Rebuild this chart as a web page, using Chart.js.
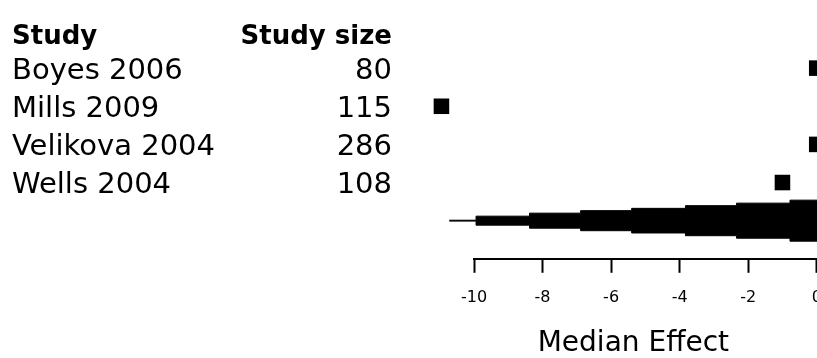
<!DOCTYPE html>
<html>
<head>
<meta charset="utf-8">
<script src="https://cdn.jsdelivr.net/npm/chart.js@4.4.1/dist/chart.umd.min.js"></script>
<style>
html,body{margin:0;padding:0;background:#fff;overflow:hidden;}
#wrap{width:1111px;height:358px;position:relative;}
</style>
</head>
<body>
<div id="wrap"><canvas id="c"></canvas></div>
<script>
// ---- data ----
const headerStudy = 'Study';
const headerSize = 'Study size';
const studies = ['Boyes 2006', 'Mills 2009', 'Velikova 2004', 'Wells 2004'];
const studySizes = [80, 115, 286, 108];
const medianEffects = [0, -10.95, 0, -1];
const studyRows = [1, 2, 3, 4];
const summaryRow = 5;
// stepped summary wedge: left edges of steps and half-heights (in row units)
const wedgeEdges = [-10.72, -9.94, -8.38, -6.89, -5.40, -3.83, -2.34, -0.78, 1.5];
const wedgeHalf = [0.012, 0.118, 0.197, 0.263, 0.323, 0.394, 0.46, 0.538, 0.538];
const xMin = -10, xMax = 8, xStep = 2;
const axisTitle = 'Median Effect';

const upper = wedgeEdges.map((x, i) => ({x: x, y: summaryRow - wedgeHalf[i]}));
const lower = wedgeEdges.map((x, i) => ({x: x, y: summaryRow + wedgeHalf[i]}));
const markers = medianEffects.map((v, i) => ({x: v, y: studyRows[i]}));

// let marks that fall left of the axis minimum still be drawn
const widenArea = {
  id: 'widenArea',
  beforeDatasetsDraw(chart) {
    this._saved = chart.chartArea;
    chart.chartArea = {left: 0, top: 0, right: chart.width, bottom: chart.height,
                       width: chart.width, height: chart.height};
  },
  afterDatasetsDraw(chart) {
    if (this._saved) chart.chartArea = this._saved;
  }
};

const tablePlugin = {
  id: 'table',
  afterDraw(chart) {
    const ctx = chart.ctx;
    const ys = chart.scales.y;
    const xs = chart.scales.x;
    ctx.save();
    ctx.fillStyle = '#000';
    ctx.textBaseline = 'alphabetic';
    ctx.font = 'bold 26px "DejaVu Sans"';
    const hy = ys.getPixelForValue(0.36);
    ctx.textAlign = 'left';
    ctx.fillText(headerStudy, 12, hy);
    ctx.textAlign = 'right';
    ctx.fillText(headerSize, 392, hy);
    ctx.font = '29px "DejaVu Sans"';
    studies.forEach((s, i) => {
      const y = ys.getPixelForValue(studyRows[i]) + 10.5;
      ctx.textAlign = 'left';
      ctx.fillText(s, 12, y);
      ctx.textAlign = 'right';
      ctx.fillText(String(studySizes[i]), 392, y);
    });
    ctx.font = '28px "DejaVu Sans"';
    ctx.textAlign = 'center';
    ctx.fillText(axisTitle, xs.getPixelForValue(-5.35), 350.5);
    ctx.restore();
  }
};

new Chart(document.getElementById('c'), {
  type: 'scatter',
  data: {
    datasets: [
      {data: upper, showLine: true, stepped: 'before', borderColor: '#000', borderWidth: 1,
       backgroundColor: '#000', fill: false, pointRadius: 0, clip: false},
      {data: lower, showLine: true, stepped: 'before', borderColor: '#000', borderWidth: 1,
       backgroundColor: '#000', fill: '-1', pointRadius: 0, clip: false},
      {data: markers, pointStyle: 'rect', pointRadius: 11, backgroundColor: '#000',
       borderWidth: 0, clip: false},
      {data: markers, pointStyle: 'circle', pointRadius: 1.3, backgroundColor: '#ffffff',
       borderWidth: 0, clip: false}
    ]
  },
  options: {
    responsive: true,
    maintainAspectRatio: false,
    devicePixelRatio: 1,
    animation: false,
    events: [],
    layout: {padding: {left: 474, right: 1.4, top: 30, bottom: 36}},
    plugins: {legend: {display: false}, tooltip: {enabled: false}},
    scales: {
      x: {
        type: 'linear', min: xMin, max: xMax,
        border: {display: true, color: '#000', width: 2},
        grid: {display: true, drawOnChartArea: false, drawTicks: true, tickLength: 14,
               tickWidth: 2, tickColor: '#000'},
        ticks: {stepSize: xStep, color: '#000', padding: 15,
                font: {family: 'DejaVu Sans', size: 16}, maxRotation: 0}
      },
      y: {type: 'linear', min: 0, max: 6, reverse: true, display: false}
    }
  },
  plugins: [widenArea, tablePlugin]
});
</script>
</body>
</html>
